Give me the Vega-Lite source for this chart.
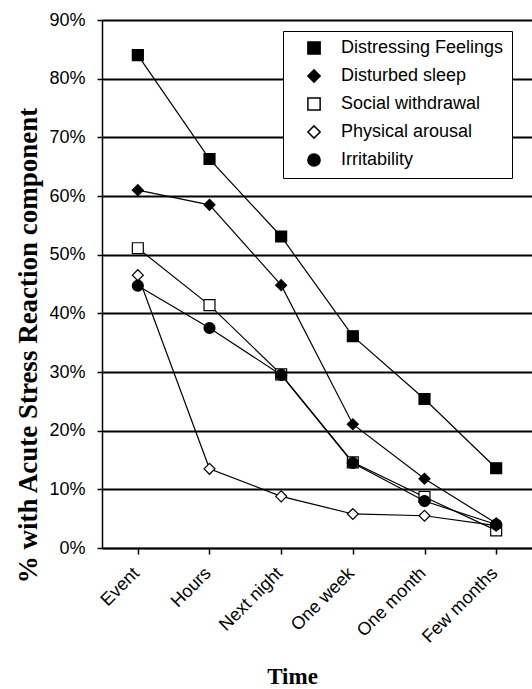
{
  "$schema": "https://vega.github.io/schema/vega-lite/v6.json",
  "autosize": {"type": "none"},
  "padding": {"left": 102, "top": 20, "right": 0, "bottom": 141},
  "width": 430,
  "height": 528,
  "background": "white",
  "data": {"values": [
    {"series": "Distressing Feelings", "time": "Event", "value": 0.84},
    {"series": "Distressing Feelings", "time": "Hours", "value": 0.663},
    {"series": "Distressing Feelings", "time": "Next night", "value": 0.531},
    {"series": "Distressing Feelings", "time": "One week", "value": 0.361},
    {"series": "Distressing Feelings", "time": "One month", "value": 0.254},
    {"series": "Distressing Feelings", "time": "Few months", "value": 0.136},
    {"series": "Disturbed sleep", "time": "Event", "value": 0.61},
    {"series": "Disturbed sleep", "time": "Hours", "value": 0.585},
    {"series": "Disturbed sleep", "time": "Next night", "value": 0.448},
    {"series": "Disturbed sleep", "time": "One week", "value": 0.211},
    {"series": "Disturbed sleep", "time": "One month", "value": 0.118},
    {"series": "Disturbed sleep", "time": "Few months", "value": 0.042},
    {"series": "Social withdrawal", "time": "Event", "value": 0.511},
    {"series": "Social withdrawal", "time": "Hours", "value": 0.414},
    {"series": "Social withdrawal", "time": "Next night", "value": 0.296},
    {"series": "Social withdrawal", "time": "One week", "value": 0.146},
    {"series": "Social withdrawal", "time": "One month", "value": 0.087},
    {"series": "Social withdrawal", "time": "Few months", "value": 0.03},
    {"series": "Physical arousal", "time": "Event", "value": 0.465},
    {"series": "Physical arousal", "time": "Hours", "value": 0.135},
    {"series": "Physical arousal", "time": "Next night", "value": 0.088},
    {"series": "Physical arousal", "time": "One week", "value": 0.058},
    {"series": "Physical arousal", "time": "One month", "value": 0.055},
    {"series": "Physical arousal", "time": "Few months", "value": 0.038},
    {"series": "Irritability", "time": "Event", "value": 0.447},
    {"series": "Irritability", "time": "Hours", "value": 0.375},
    {"series": "Irritability", "time": "Next night", "value": 0.295},
    {"series": "Irritability", "time": "One week", "value": 0.145},
    {"series": "Irritability", "time": "One month", "value": 0.08},
    {"series": "Irritability", "time": "Few months", "value": 0.04}
  ]},
  "encoding": {
    "x": {
      "field": "time", "type": "nominal",
      "sort": ["Event", "Hours", "Next night", "One week", "One month", "Few months"],
      "scale": {"paddingInner": 0, "paddingOuter": 0},
      "axis": {
        "title": "Time",
        "titleFont": "Liberation Serif", "titleFontSize": 23, "titleFontWeight": "bold", "titleColor": "black",
        "titleX": 190, "titleY": 135, "titleBaseline": "alphabetic",
        "labelFont": "Liberation Sans", "labelFontSize": 18, "labelColor": "black",
        "labelAngle": -45, "labelAlign": "right", "labelBaseline": "top", "labelPadding": 10, "labelOffset": -8,
        "bandPosition": 0,
        "domainColor": "black", "domainWidth": 1.5,
        "tickColor": "black", "tickWidth": 1.5, "tickSize": 6,
        "grid": false
      }
    },
    "y": {
      "field": "value", "type": "quantitative",
      "scale": {"domain": [0, 0.9], "nice": false},
      "axis": {
        "title": "% with Acute Stress Reaction component",
        "titleFont": "Liberation Serif", "titleFontSize": 27, "titleFontWeight": "bold", "titleColor": "black",
        "titleX": -74, "titleY": 325, "titleBaseline": "middle",
        "values": [0, 0.1, 0.2, 0.3, 0.4, 0.5, 0.6, 0.7, 0.8, 0.9],
        "format": ".0%",
        "labelFont": "Liberation Sans", "labelFontSize": 18, "labelColor": "black", "labelPadding": 12,
        "domainColor": "black", "domainWidth": 1.5,
        "tickColor": "black", "tickWidth": 1.5, "tickSize": 5,
        "grid": true, "gridColor": "black", "gridWidth": 1.8, "gridOpacity": 1
      }
    }
  },
  "layer": [
    {
      "mark": {"type": "line", "color": "black", "strokeWidth": 1.2},
      "encoding": {"detail": {"field": "series"}}
    },
    {
      "mark": {"type": "point", "filled": true, "stroke": "black", "strokeWidth": 1.2, "opacity": 1, "size": 120},
      "encoding": {
        "shape": {
          "field": "series", "type": "nominal",
          "scale": {
            "domain": ["Distressing Feelings", "Disturbed sleep", "Social withdrawal", "Physical arousal", "Irritability"],
            "range": ["square", "diamond", "square", "diamond", "circle"]
          },
          "legend": {
            "title": null,
            "orient": "none", "legendX": 181, "legendY": 11,
            "strokeColor": "black", "fillColor": "white", "padding": 8,
            "labelFont": "Liberation Sans", "labelFontSize": 18, "labelColor": "black", "labelLimit": 400,
            "labelOffset": 18, "rowPadding": 8, "symbolOffset": 14,
            "symbolSize": 150
          }
        },
        "fill": {
          "field": "series", "type": "nominal",
          "scale": {
            "domain": ["Distressing Feelings", "Disturbed sleep", "Social withdrawal", "Physical arousal", "Irritability"],
            "range": ["black", "black", "white", "white", "black"]
          },
          "legend": {
            "title": null,
            "orient": "none", "legendX": 181, "legendY": 11,
            "strokeColor": "black", "fillColor": "white", "padding": 8,
            "labelFont": "Liberation Sans", "labelFontSize": 18, "labelColor": "black", "labelLimit": 400,
            "labelOffset": 18, "rowPadding": 8, "symbolOffset": 14,
            "symbolSize": 150
          }
        }
      }
    }
  ],
  "config": {"view": {"stroke": null}}
}
